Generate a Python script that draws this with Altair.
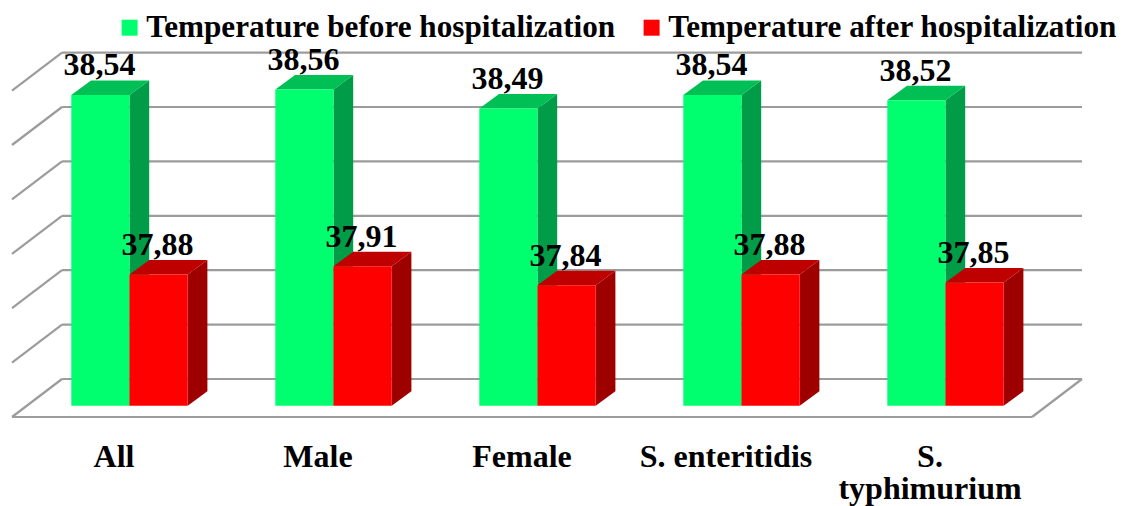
import altair as alt
import pandas as pd

categories = ["All", "Male", "Female", "S. enteritidis", "S.\ntyphimurium"]
before = [38.54, 38.56, 38.49, 38.54, 38.52]
after = [37.88, 37.91, 37.84, 37.88, 37.85]
series = ["Temperature before hospitalization", "Temperature after hospitalization"]
grid_values = [37.4, 37.6, 37.8, 38.0, 38.2, 38.4, 38.6]

FONT = "Liberation Serif"
XU, YU = 204.0, 272.0          # pixels per category / per degree
W, H = 1113, 498
BASE = 37.3975
BAR_W = 58.2 / XU
BAR_SHIFT = 15.5 / XU
DEPTH_X, DEPTH_Y = 19.7 / XU, 14.5 / YU
WALL_X, WALL_Y = 50 / XU, 26 / YU
FRONT_Y = -12 / YU
LEFT, RIGHT = -0.5, 4.5

x_scale = alt.Scale(domain=[(8 - 114) / XU, (8 + W - 114) / XU], nice=False, zero=False)
y_scale = alt.Scale(domain=[37.4 - (8 + H - 405) / YU, 37.4 + (405 - 8) / YU], nice=False, zero=False)
X = alt.X("x:Q", scale=x_scale, axis=None)
Y = alt.Y("y:Q", scale=y_scale, axis=None, stack=None)
Y2 = alt.Y2("y2:Q")

# ---- tables
bars, sides, tops = [], [], []
for i in range(len(categories)):
    for s, vals, start in ((series[0], before, i - BAR_W + BAR_SHIFT), (series[1], after, i + BAR_SHIFT)):
        v = vals[i]
        end = start + BAR_W
        bars.append(dict(series=s, x=start, x2=end, y=BASE, y2=v, cx=(start + end) / 2, label=f"{v:.2f}".replace(".", ",")))
        g = f"{s}{i}"
        sides += [dict(series=s, g=g, x=end, y=BASE, y2=v),
                  dict(series=s, g=g, x=end + DEPTH_X, y=BASE + DEPTH_Y, y2=v + DEPTH_Y)]
        tops += [dict(series=s, g=g, x=start, y=v, y2=v),
                 dict(series=s, g=g, x=start + DEPTH_X, y=v, y2=v + DEPTH_Y),
                 dict(series=s, g=g, x=end, y=v, y2=v + DEPTH_Y),
                 dict(series=s, g=g, x=end + DEPTH_X, y=v + DEPTH_Y, y2=v + DEPTH_Y)]
bars, sides, tops = pd.DataFrame(bars), pd.DataFrame(sides), pd.DataFrame(tops)

lines = []
for k, v in enumerate(grid_values):
    wy = v + WALL_Y
    lines += [dict(g=f"w{k}", x=LEFT + WALL_X, y=wy), dict(g=f"w{k}", x=RIGHT + WALL_X, y=wy),
              dict(g=f"o{k}", x=LEFT, y=v + WALL_Y - 38 / YU), dict(g=f"o{k}", x=LEFT + WALL_X, y=wy)]
f0 = grid_values[0]
lines += [dict(g="f", x=LEFT, y=f0 + FRONT_Y), dict(g="f", x=RIGHT, y=f0 + FRONT_Y),
          dict(g="r", x=RIGHT, y=f0 + FRONT_Y), dict(g="r", x=RIGHT + WALL_X, y=f0 + WALL_Y)]
lines = pd.DataFrame(lines)

cats = pd.DataFrame(dict(x=range(len(categories)), y=[f0 + FRONT_Y] * len(categories), name=categories))

# ---- layers
grid = alt.Chart(lines).mark_line(color="#9c9c9c", strokeWidth=2.2).encode(X, Y, detail="g:N")


def faces(s, front_side, front_top):
    sd = alt.Chart(sides[sides.series == s]).mark_area(color=front_side, orient="vertical").encode(X, Y, Y2, detail="g:N")
    tp = alt.Chart(tops[tops.series == s]).mark_area(color=front_top, orient="vertical").encode(X, Y, Y2, detail="g:N")
    return sd + tp


def front(s):
    return alt.Chart(bars[bars.series == s]).mark_rect().encode(
        x=X, x2="x2:Q", y=alt.Y("y:Q", scale=y_scale, axis=None), y2=Y2,
        color=alt.Color("series:N",
                        scale=alt.Scale(domain=series, range=["#00ff6e", "#ff0000"]),
                        legend=alt.Legend(title=None, orient="none", legendX=106, legendY=4,
                                          direction="horizontal", columns=2, symbolType="square",
                                          symbolSize=256, symbolStrokeWidth=0, symbolOpacity=1,
                                          labelFont=FONT, labelFontWeight="bold", labelFontSize=31.2,
                                          labelColor="black", labelLimit=600, labelOffset=1,
                                          columnPadding=20)),
    )


labels = alt.Chart(bars).mark_text(font=FONT, fontWeight="bold", fontSize=32, color="black",
                                   baseline="alphabetic", dy=-19.5, dx=-1).encode(
    x=alt.X("cx:Q", scale=x_scale, axis=None), y=alt.Y("y2:Q", scale=y_scale, axis=None), text="label:N")

cat_text = alt.Chart(cats).mark_text(font=FONT, fontWeight="bold", fontSize=32, color="black",
                                     baseline="alphabetic", dy=50, lineBreak="\n", lineHeight=32).encode(
    x=alt.X("x:Q", scale=x_scale, axis=None), y=alt.Y("y:Q", scale=y_scale, axis=None), text="name:N")

chart = alt.layer(
    grid,
    faces(series[0], "#009c47", "#00bf55"),
    front(series[0]),
    faces(series[1], "#9e0000", "#bf0000"),
    front(series[1]),
    labels,
    cat_text,
).properties(width=W, height=H, padding=0, autosize=alt.AutoSizeParams(type="none")).configure_view(stroke=None)

chart.save("out.html", embed_options={"renderer": "svg", "actions": False})
